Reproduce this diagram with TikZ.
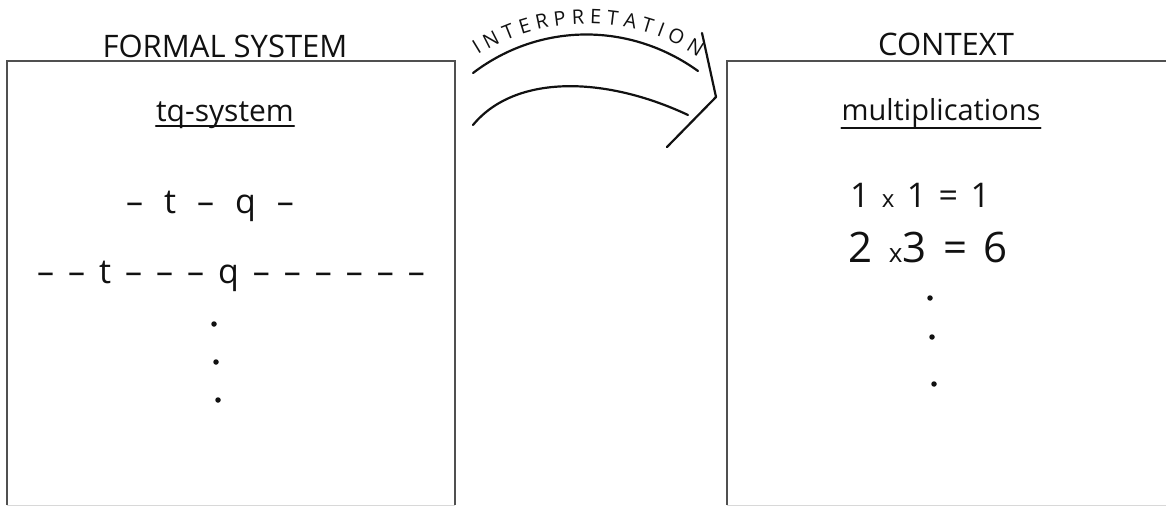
\documentclass[tikz,border=0pt]{standalone}
\usepackage{fontspec}
\setmainfont{Open Sans}
\usetikzlibrary{decorations.text}
\definecolor{figframe}{HTML}{505050}
\definecolor{figbottom}{HTML}{D8D8D8}
\definecolor{figink}{HTML}{111111}
\tikzset{
  boxframe/.style={draw=figframe, line width=2pt},
  ink/.style={draw=figink, line width=2.2pt, line cap=round, line join=round},
  headline/.style={text=figink, inner sep=0pt, anchor=base, font=\fontsize{31}{31}\selectfont},
  entry/.style={text=figink, inner sep=0pt, anchor=base, font=\fontsize{34}{34}\selectfont},
  dotmark/.style={circle, fill=figink, inner sep=0pt, minimum size=5.5pt}
}

\begin{document}
\begin{tikzpicture}[x=1pt,y=-1pt]
  \useasboundingbox (0,0) rectangle (1166,506);
  % the two frames (their bottoms run off the page)
  \draw[boxframe] (7,505) -- (7,61) -- (455,61) -- (455,505);
  \draw[boxframe] (727,505) -- (727,61) -- (1170,61);
  \draw[figbottom, line width=1pt] (7,505) -- (455,505);
  \draw[figbottom, line width=1pt] (727,505) -- (1166,505);
  % titles
  \node[headline] (formal) at (225,57) {FORMAL SYSTEM};
  \node[headline] (context) at (946,55) {CONTEXT};
  % left frame: the tq-system
  \node[entry, font=\fontsize{30}{30}\selectfont] (tqsys) at (225,121) {tq-system};
  \draw[ink] ([yshift=-5pt]tqsys.base west) -- ([yshift=-5pt]tqsys.base east);
  \node[entry] (axiom) at (210,213) {\makebox[168pt][s]{– t – q –}};
  \node[entry] (theorem) at (231,283) {\makebox[388pt][s]{– – t – – – q – – – – – –}};
  \node[dotmark] (ldota) at (214,324) {};
  \node[dotmark] (ldotb) at (216,362) {};
  \node[dotmark] (ldotc) at (218,400) {};
  % right frame: multiplications
  \node[entry, font=\fontsize{29}{29}\selectfont] (mult) at (941,120) {multiplications};
  \draw[ink] ([yshift=-8pt]mult.base west) -- ([yshift=-8pt]mult.base east);
  \node[entry] (prodone) at (920,207) {\makebox[140pt][s]{1 {\fontsize{24}{24}\selectfont x} 1 = 1}};
  \node[entry, font=\fontsize{42}{42}\selectfont] (prodtwo) at (928,262) {\makebox[160pt][s]{2 {\fontsize{26}{26}\selectfont x}3 = 6}};
  \node[dotmark] (rdota) at (930,298) {};
  \node[dotmark] (rdotb) at (932,337) {};
  \node[dotmark] (rdotc) at (934,384) {};
  % interpretation arrow
  \coordinate (upl) at (473,73);
  \coordinate (upr) at (698,71);
  \coordinate (lowl) at (473,125);
  \coordinate (lowr) at (688,115);
  \coordinate (headtop) at (702,33);
  \coordinate (headtip) at (716,97);
  \coordinate (headbot) at (667,147);
  \draw[ink] (upl) .. controls (540,22) and (630,22) .. (upr);
  \draw[ink] (lowl) .. controls (515,74) and (605,76) .. (lowr);
  \draw[ink] (headtop) -- (headtip) -- (headbot);
  \path[decorate, decoration={text along path, text align=fit to path,
    text={|\fontsize{20}{20}\selectfont\color{figink}|INTERPRETATION}}]
    (478,55) .. controls (545,13) and (632,13) .. (698,57);
\end{tikzpicture}
\end{document}
